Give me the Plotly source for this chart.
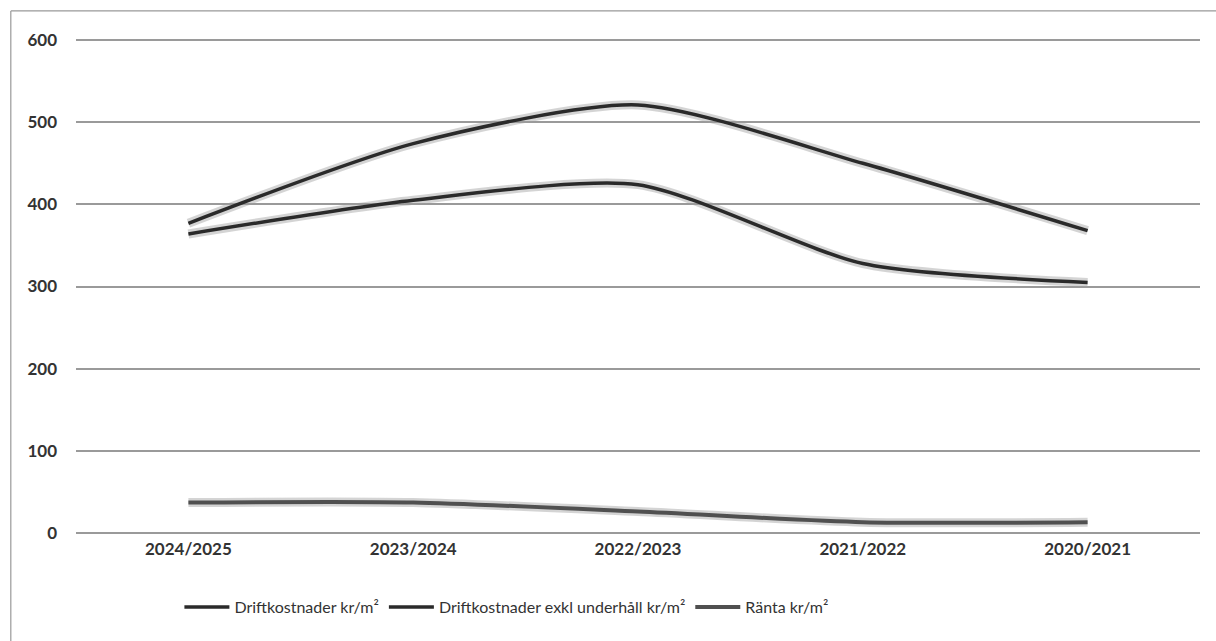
import plotly.graph_objects as go

categories = ["2024/2025", "2023/2024", "2022/2023", "2021/2022", "2020/2021"]
drift = [377, 474, 521, 450, 368]
drift_exkl = [364, 405, 424, 328, 305]
ranta = [37, 37, 26, 13, 13]

series_names = ["Driftkostnader kr/m²", "Driftkostnader exkl underhåll kr/m²", "Ränta kr/m²"]
y_ticks = [0, 100, 200, 300, 400, 500, 600]

fig = go.Figure()
styles = [("#2a2a2a", 3.5), ("#2a2a2a", 3.5), ("#505050", 4)]
all_vals = [drift, drift_exkl, ranta]
# soft halo beneath each line, like the scanned original
for vals in all_vals:
    fig.add_trace(go.Scatter(
        x=categories, y=vals, mode="lines", showlegend=False, hoverinfo="skip",
        line=dict(color="rgba(160,160,160,0.45)", width=9, shape="spline", smoothing=0.7),
    ))
for name, vals, (col, w) in zip(series_names, all_vals, styles):
    fig.add_trace(go.Scatter(
        x=categories, y=vals, mode="lines", name=name,
        line=dict(color=col, width=w, shape="spline", smoothing=0.7),
    ))

font_family = "Lato, 'Open Sans', 'Liberation Sans', sans-serif"
tick_font = dict(family=font_family, size=17, color="#333333", weight="bold")
fig.update_layout(
    width=1216, height=641,
    margin=dict(l=76, r=16, t=36, b=104),
    paper_bgcolor="white", plot_bgcolor="white",
    font=dict(family=font_family, size=16, color="#333333"),
    showlegend=True,
    legend=dict(orientation="h", x=0.092, xanchor="left", y=-0.14, yanchor="middle",
                font=dict(size=16, color="#333333"), itemwidth=45, tracegroupgap=0),
    xaxis=dict(type="category", range=[-0.5, 4.5], showgrid=False, zeroline=False,
               showline=False, ticks="", tickfont=tick_font),
    yaxis=dict(range=[-5, 605], tickvals=y_ticks, showgrid=True, gridcolor="#9a9a9a",
               gridwidth=1.6, zeroline=False, showline=False, ticks="",
               ticklabelstandoff=18, tickfont=tick_font),
    shapes=[
        dict(type="line", xref="paper", yref="paper", x0=-0.058, x1=1.1, y0=1.05, y1=1.05,
             line=dict(color="#999999", width=1.2)),
        dict(type="line", xref="paper", yref="paper", x0=-0.058, x1=-0.058, y0=1.05, y1=-0.25,
             line=dict(color="#999999", width=1.2)),
    ],
)

fig.write_html("out.html")
